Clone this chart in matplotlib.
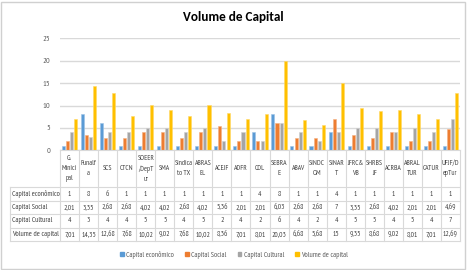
import matplotlib
matplotlib.use("Agg")
import matplotlib.pyplot as plt
import matplotlib.transforms as mtransforms
from matplotlib.patches import Rectangle
from matplotlib.lines import Line2D
import numpy as np

plt.rcParams['font.family'] = ['PT Sans Narrow', 'DejaVu Sans']

categories = ["G.\nMinici\npal", "Funalf\na", "SCS", "CTCN", "SOEER\n/DepT\nur", "SMA",
              "Sindica\nto TX", "ABRAS\nEL", "ACEJF", "ADFR", "CDL", "SEBRA\nE", "ABAV",
              "SINDC\nOM", "SINAR\nT", "JFRC&\nVB", "SHRBS\nJF", "ACRBA", "ABRAL\nTUR",
              "CATUR", "UFJF/D\nepTur"]
capital_economico = [1, 8, 6, 1, 1, 1, 1, 1, 1, 1, 4, 8, 1, 1, 4, 1, 1, 1, 1, 1, 1]
capital_social = [2.01, 3.35, 2.68, 2.68, 4.02, 4.02, 2.68, 4.02, 5.36, 2.01, 2.01, 6.03,
                  2.68, 2.68, 7, 3.35, 2.68, 4.02, 2.01, 2.01, 4.69]
capital_cultural = [4, 3, 4, 4, 5, 5, 4, 5, 2, 4, 2, 6, 4, 2, 4, 5, 5, 4, 5, 4, 7]
volume_capital = [7.01, 14.35, 12.68, 7.68, 10.02, 9.02, 7.68, 10.02, 8.36, 7.01, 8.01,
                  20.03, 6.68, 5.68, 15, 9.35, 8.68, 9.02, 8.01, 7.01, 12.69]
series_names = ["Capital econômico", "Capital Social", "Capital Cultural", "Volume de capital"]
series_values = [capital_economico, capital_social, capital_cultural, volume_capital]
colors = ["#5B9BD5", "#ED7D31", "#A5A5A5", "#FFC000"]
edges = ["#9DC3E6", "#F4B183", "#D0D0D0", "#FFD966"]

W, H = 467, 270
fig = plt.figure(figsize=(W / 100, H / 100), dpi=100)

def fx(px):
    return px / W

def fy(py):
    return 1 - py / H

left, right, top0, bottom0 = 60, 460, 38.3, 150.3
ax = fig.add_axes([fx(left), fy(bottom0), fx(right - left), (bottom0 - top0) / H])
n = len(categories)
x = np.arange(n)
step = 0.215
bw = 0.16
for k, (vals, c, ec) in enumerate(zip(series_values, colors, edges)):
    ax.bar(x + (k - 1.5) * step, vals, width=bw, color=c, edgecolor=ec, linewidth=0.4,
           label=series_names[k], zorder=3)
ax.set_xlim(-0.5, n - 0.5)
ax.set_ylim(0, 25)
ax.set_yticks([0, 5, 10, 15, 20, 25])
ax.tick_params(axis='y', length=0, labelsize=6, labelcolor="#595959", pad=7)
ax.set_xticks([])
for s in ax.spines.values():
    s.set_visible(False)
ax.yaxis.grid(True, color="#D9D9D9", linewidth=1.0, zorder=0)
ax.set_axisbelow(True)
ax.patch.set_alpha(0)

fig.text(0.5, fy(17), "Volume de Capital", ha='center', va='center',
         fontsize=9.5, fontweight='bold', color="#000000", family=['Carlito', 'DejaVu Sans'])

# Data table below the chart
trans = mtransforms.blended_transform_factory(ax.transData, fig.transFigure)
line_c = "#D9D9D9"
tab_top, lab_bot = 150.3, 187.3
row_bounds = [187.3, 200.7, 214.0, 227.5, 241.0]
xb = np.arange(n + 1) - 0.5
fig.add_artist(Line2D([fx(left), fx(right)], [fy(tab_top)] * 2, color=line_c, lw=0.8))
for rb in row_bounds:
    fig.add_artist(Line2D([fx(10), fx(right)], [fy(rb)] * 2, color=line_c, lw=0.8))
for xv in xb:
    fig.add_artist(Line2D([fx(left + (xv + 0.5) * (right - left) / n)] * 2,
                          [fy(tab_top), fy(row_bounds[-1])], color=line_c, lw=0.8))
fig.add_artist(Line2D([fx(10)] * 2, [fy(lab_bot), fy(row_bounds[-1])], color=line_c, lw=0.8))

fs = 5.4
for i, cat in enumerate(categories):
    fig.text(i, fy((tab_top + lab_bot) / 2), cat, transform=trans, ha='center', va='center',
             fontsize=5.2, color="#404040", linespacing=1.6)

def fmt(v):
    if float(v).is_integer():
        return str(int(v))
    return ("%.2f" % v).replace('.', ',')

for r, (name, vals) in enumerate(zip(series_names, series_values)):
    yc = fy((row_bounds[r] + row_bounds[r + 1]) / 2)
    fig.text(fx(12), yc, name, ha='left', va='center', fontsize=fs, color="#404040")
    for i, v in enumerate(vals):
        fig.text(i, yc, fmt(v), transform=trans, ha='center', va='center',
                 fontsize=fs, color="#404040")

handles = [Rectangle((0, 0), 1, 1, color=c) for c in colors]
fig.legend(handles, series_names, loc='center', bbox_to_anchor=(fx(234), fy(255)),
           ncol=4, frameon=False, fontsize=5.4, handlelength=0.5, handleheight=0.5,
           handletextpad=0.3, columnspacing=1.5, labelcolor="#595959")

fig.add_artist(Rectangle((0.002, 0.004), 0.994, 0.99, transform=fig.transFigure,
                         fill=False, edgecolor="#D0D0D0", linewidth=1.0))

fig.savefig("out.png", dpi=100)
